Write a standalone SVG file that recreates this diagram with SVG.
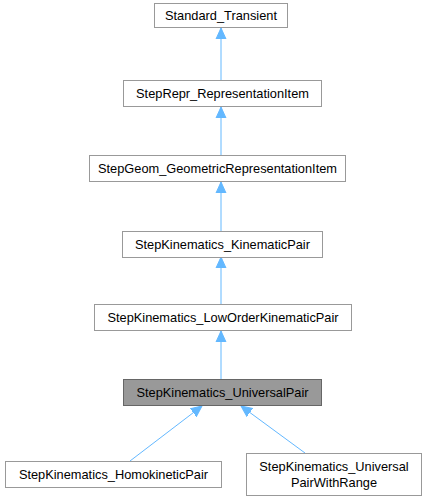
<svg xmlns="http://www.w3.org/2000/svg" width="427" height="501" viewBox="0 0 427 501">
<style>
.n rect{fill:#ffffff;stroke:#999999;stroke-width:1}
.n.cur rect{fill:#999999;stroke:#666666}
.n text{font-family:"Liberation Sans",Arial,sans-serif;font-size:12.8px;fill:#000000;text-anchor:middle}
.e line{stroke:#63b8ff;stroke-width:1}
</style>
<defs>
<marker id="ah" markerWidth="12" markerHeight="12" refX="11" refY="6" orient="auto" markerUnits="userSpaceOnUse">
<path d="M0,1 L11,6 L0,11 z" fill="#63b8ff" stroke="#63b8ff"/>
</marker>
</defs>
<rect width="427" height="501" fill="#ffffff"/>
<g class="e" id="edges">
<line x1="221" y1="80" x2="221" y2="28" marker-end="url(#ah)"/>
<line x1="221" y1="155" x2="221" y2="107" marker-end="url(#ah)"/>
<line x1="221" y1="231" x2="221" y2="182" marker-end="url(#ah)"/>
<line x1="221" y1="304" x2="221" y2="257" marker-end="url(#ah)"/>
<line x1="221" y1="379" x2="221" y2="331" marker-end="url(#ah)"/>
<line x1="130" y1="461" x2="202" y2="406" marker-end="url(#ah)"/>
<line x1="305" y1="453" x2="241" y2="406" marker-end="url(#ah)"/>
</g>
<g class="n" id="node1"><rect x="154.5" y="3.5" width="133" height="24"/><text x="221" y="20">Standard_Transient</text></g>
<g class="n" id="node2"><rect x="123.5" y="80.5" width="198" height="26"/><text x="222.5" y="98">StepRepr_RepresentationItem</text></g>
<g class="n" id="node3"><rect x="89.5" y="155.5" width="256" height="26"/><text x="217.5" y="173">StepGeom_GeometricRepresentationItem</text></g>
<g class="n" id="node4"><rect x="122.5" y="231.5" width="200" height="26"/><text x="222.5" y="249">StepKinematics_KinematicPair</text></g>
<g class="n" id="node5"><rect x="94.5" y="304.5" width="257" height="26"/><text x="223" y="322">StepKinematics_LowOrderKinematicPair</text></g>
<g class="n cur" id="node6"><rect x="123.5" y="379.5" width="198" height="26"/><text x="222.5" y="397">StepKinematics_UniversalPair</text></g>
<g class="n" id="node7"><rect x="5.5" y="461.5" width="216" height="26"/><text x="113.5" y="479">StepKinematics_HomokineticPair</text></g>
<g class="n" id="node8"><rect x="246.5" y="453.5" width="175" height="42"/><text x="334" y="471">StepKinematics_Universal</text><text x="334" y="487">PairWithRange</text></g>
</svg>
